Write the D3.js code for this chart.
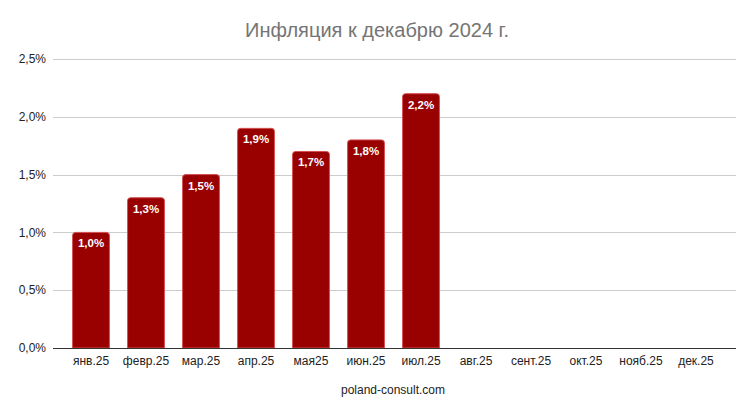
<!DOCTYPE html>
<html lang="ru">
<head>
<meta charset="utf-8">
<title>Инфляция</title>
<script src="https://cdn.jsdelivr.net/npm/d3@7"></script>
<style>
  body { margin: 0; background: #fff; }
  text { font-family: "Liberation Sans", Arial, sans-serif; }
</style>
</head>
<body>
<svg id="chart" width="750" height="409"></svg>
<script>
var months = ["янв.25", "февр.25", "мар.25", "апр.25", "мая25", "июн.25", "июл.25",
              "авг.25", "сент.25", "окт.25", "нояб.25", "дек.25"];
var values = [1.0, 1.3, 1.5, 1.9, 1.7, 1.8, 2.2];
var yTicks = [0, 0.5, 1.0, 1.5, 2.0, 2.5];

var svg = d3.select("#chart"),
  plot = {left: 53, right: 736, top: 59, bottom: 348};

var fmt = v => d3.format(".1f")(v).replace(".", ",") + "%";

var x = d3.scaleBand()
  .domain(months)
  .range([63.5, 723.5])
  .paddingInner(0.33)
  .paddingOuter(0.165);

var y = d3.scaleLinear()
  .domain([0, 2.5])
  .range([plot.bottom, plot.top]);

// gridlines
svg.append("g")
  .selectAll("line")
  .data(yTicks.slice(1))
  .join("line")
    .attr("x1", plot.left).attr("x2", plot.right)
    .attr("y1", d => Math.round(y(d)) + 0.5).attr("y2", d => Math.round(y(d)) + 0.5)
    .attr("stroke", "#cccccc")
    .attr("stroke-width", 1);

// y labels
svg.append("g")
  .selectAll("text")
  .data(yTicks)
  .join("text")
    .attr("x", plot.left - 7)
    .attr("y", d => y(d))
    .attr("dy", "0.35em")
    .attr("text-anchor", "end")
    .attr("font-size", "12px")
    .attr("fill", "#222")
    .text(fmt);

// bars with rounded tops
var r = 3;
svg.append("g")
  .selectAll("path")
  .data(values)
  .join("path")
    .attr("d", (d, i) => {
      var x0 = x(months[i]), w = x.bandwidth(), y0 = y(d), y1 = y(0);
      return `M${x0},${y1} V${y0 + r} Q${x0},${y0} ${x0 + r},${y0} H${x0 + w - r} Q${x0 + w},${y0} ${x0 + w},${y0 + r} V${y1} Z`;
    })
    .attr("fill", "#990000")
    .attr("stroke", "#d45050")
    .attr("stroke-width", 1);

// bar value labels
svg.append("g")
  .selectAll("text")
  .data(values)
  .join("text")
    .attr("x", (d, i) => x(months[i]) + x.bandwidth() / 2)
    .attr("y", d => y(d) + 15)
    .attr("text-anchor", "middle")
    .attr("font-family", "Roboto, sans-serif")
    .attr("font-size", "11.5px")
    .attr("font-weight", "bold")
    .attr("fill", "#fff")
    .text(fmt);

// x axis
svg.append("line")
  .attr("x1", plot.left).attr("x2", plot.right)
  .attr("y1", plot.bottom + 0.5).attr("y2", plot.bottom + 0.5)
  .attr("stroke", "#333")
  .attr("stroke-width", 1);

svg.append("g")
  .selectAll("text")
  .data(months)
  .join("text")
    .attr("x", d => x(d) + x.bandwidth() / 2)
    .attr("y", plot.bottom + 17)
    .attr("text-anchor", "middle")
    .attr("font-size", "12px")
    .attr("fill", "#222")
    .text(d => d);

// title
svg.append("text")
  .attr("x", 377)
  .attr("y", 37)
  .attr("text-anchor", "middle")
  .attr("font-size", "20px")
  .attr("fill", "#757575")
  .text("Инфляция к декабрю 2024 г.");

// source
svg.append("text")
  .attr("x", 393)
  .attr("y", 394)
  .attr("text-anchor", "middle")
  .attr("font-size", "12px")
  .attr("fill", "#222")
  .text("poland-consult.com");
</script>
</body>
</html>
